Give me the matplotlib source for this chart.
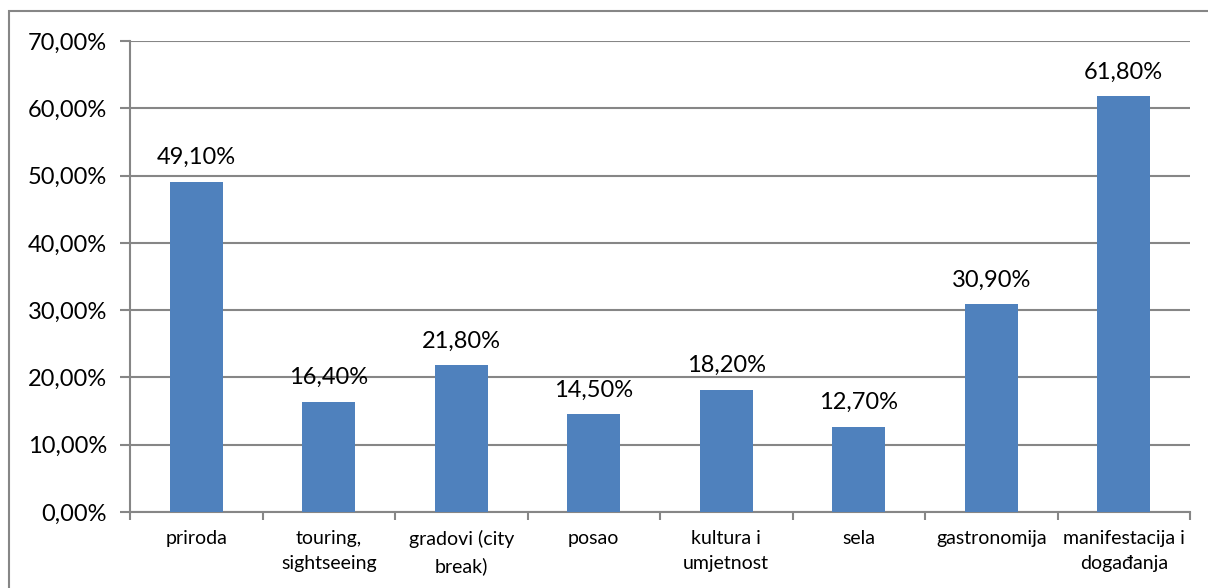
import matplotlib.pyplot as plt
from matplotlib.patches import Rectangle

categories = ["priroda", "touring,\nsightseeing", "gradovi (city\nbreak)", "posao",
              "kultura i\numjetnost", "sela", "gastronomija", "manifestacija i\ndogađanja"]
values = [49.10, 16.40, 21.80, 14.50, 18.20, 12.70, 30.90, 61.80]
yticks = [0, 10, 20, 30, 40, 50, 60, 70]

plt.rcParams['font.family'] = ['Lato', 'DejaVu Sans']

fig = plt.figure(figsize=(12.08, 5.88), dpi=100)
ax = fig.add_axes([130/1208, 1 - 512/588, 1060/1208, 471/588])

grey = "#868686"
x = list(range(len(categories)))
ax.bar(x, values, width=0.4, color="#4F81BD", zorder=3)

for xi, v in zip(x, values):
    ax.text(xi, v + 2.0, f"{v:.2f}%".replace(".", ","), ha="center", va="bottom", fontsize=17)

ax.set_xlim(-0.5, len(categories) - 0.5)
ax.set_ylim(0, 70)
ax.set_yticks(yticks)
ax.set_yticklabels([f"{t:.2f}%".replace(".", ",") for t in yticks], fontsize=17)
ax.yaxis.grid(True, color=grey, lw=1.5, zorder=0)

ax.set_xticks(x)
ax.set_xticklabels(categories, fontsize=14, linespacing=1.6)
ax.set_xticks([i - 0.5 for i in range(len(categories) + 1)], minor=True)
ax.tick_params(axis="x", which="major", length=0, pad=13)
ax.tick_params(axis="x", which="minor", length=6, color=grey, width=1.5)
ax.tick_params(axis="y", length=7, color=grey, width=1.5, pad=9.5)

for s in ["top", "right"]:
    ax.spines[s].set_visible(False)
for s in ["left", "bottom"]:
    ax.spines[s].set_color(grey)
    ax.spines[s].set_linewidth(1.5)

fig.patches.append(Rectangle((9/1208, -0.1), 1.2, 1.1 - 11/588, transform=fig.transFigure,
                             fill=False, edgecolor=grey, lw=1.5))

fig.savefig("out.png", dpi=100)
